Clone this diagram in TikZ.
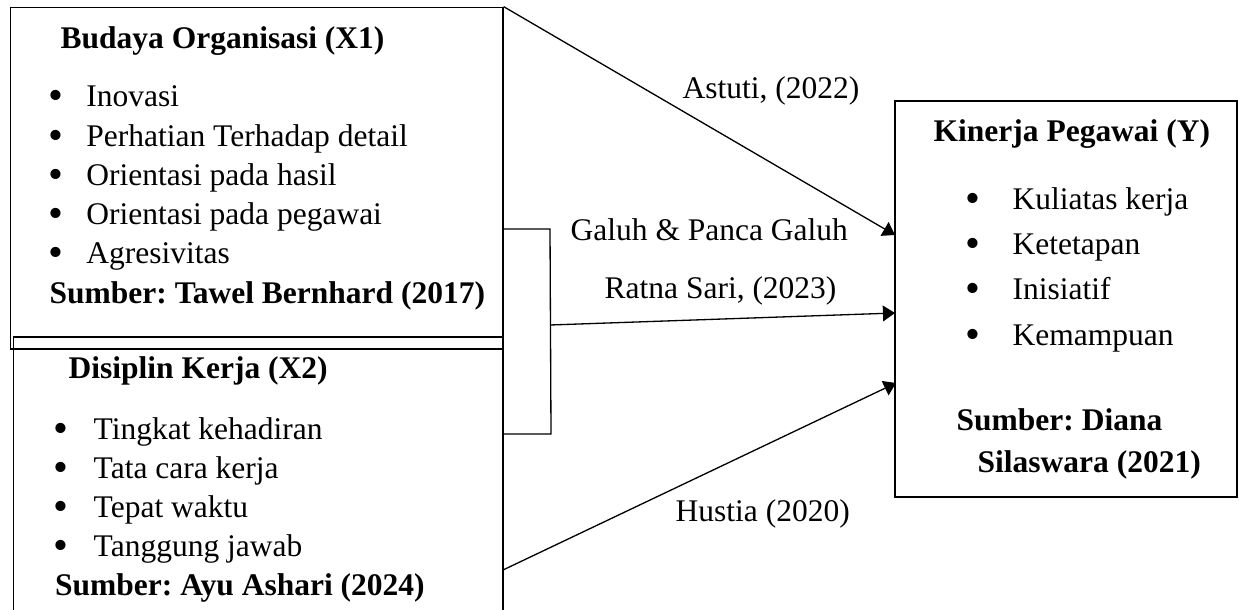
\documentclass[tikz,border=0pt]{standalone}
\usepackage{fontspec}
\setmainfont{Liberation Serif}
\usetikzlibrary{arrows.meta, fit}
\frenchspacing

\newcommand{\itm}[2][14pt]{\makebox[#1][l]{\hspace{-0.05em}\raisebox{-0.1em}{\scalebox{1.35}{\textbullet}}}#2}

\begin{document}
\begin{tikzpicture}[x=0.381pt,y=-0.381pt,>={Triangle[length=4.6pt,width=6pt]},
  line width=0.5pt,
  box/.style={draw,rectangle,inner sep=0pt},
  head/.style={anchor=base west,inner sep=0pt,font=\fontsize{12}{14}\selectfont\bfseries},
  items/.style={anchor=base west,inner sep=0pt,align=left},
  ref/.style={anchor=base west,inner sep=0pt,font=\fontsize{12}{14}\selectfont}]
  \useasboundingbox (0,0) rectangle (1239,609);
  % boxes
  \node[box, fit={(10.7,7.3) (503,349)}] (x1box) {};
  \node[box, fit={(13.8,337) (503,640)}] (x2box) {};
  \node[box, fit={(895,101) (1237,497)}] (ybox) {};
  % texts of X1 (lists are placed by their last line)
  \node[head] (x1head) at (60,48) {Budaya Organisasi (X1)};
  \node[items, font=\fontsize{12}{14.95}\selectfont] (x1list) at (49,303)
    {\itm{Inovasi}\\ \itm{Perhatian Terhadap detail}\\ \itm{Orientasi pada hasil}\\
     \itm{Orientasi pada pegawai}\\ \itm{Agresivitas}\\ \textbf{Sumber: Tawel Bernhard (2017)}};
  % texts of X2
  \node[head] (x2head) at (68,378) {Disiplin Kerja (X2)};
  \node[items, font=\fontsize{12}{14.85}\selectfont] (x2list) at (54.5,595)
    {\itm[14.7pt]{Tingkat kehadiran}\\ \itm[14.7pt]{Tata cara kerja}\\ \itm[14.7pt]{Tepat waktu}\\
     \itm[14.7pt]{Tanggung jawab}\\ \textbf{Sumber: Ayu Ashari (2024)}};
  % texts of Y
  \node[head] (yhead) at (933,141) {Kinerja Pegawai (Y)};
  \node[items, font=\fontsize{12}{17.27}\selectfont] (ylist) at (966.5,345)
    {\itm[17.3pt]{Kuliatas kerja}\\ \itm[17.3pt]{Ketetapan}\\ \itm[17.3pt]{Inisiatif}\\ \itm[17.3pt]{Kemampuan}};
  \node[items, font=\fontsize{12}{16}\selectfont\bfseries] (ysrc) at (956,472)
    {Sumber: Diana\\ \hspace{8pt}Silaswara (2021)};
  % connectors
  \coordinate (bt) at (550,229);
  \coordinate (bm) at (550,325);
  \coordinate (bb) at (551,434);
  \coordinate (ya) at (895,235);
  \coordinate (yb) at (895,313);
  \coordinate (yc) at (896,383);
  \coordinate (xc) at (503,570);
  \draw (x1box.east |- bt) -- (bt) -- (bb) -- (x2box.east |- bb);
  \draw[->] (x1box.north east) -- (ya);
  \draw[->] (bm) -- (yb);
  \draw[->] (xc) -- (yc);
  % labels
  \node[ref] (lastuti) at (682,98) {Astuti, (2022)};
  \node[ref] (lgaluh) at (570,240) {Galuh \& Panca Galuh};
  \node[ref] (lratna) at (604,298) {Ratna Sari, (2023)};
  \node[ref] (lhustia) at (675,521) {Hustia (2020)};
\end{tikzpicture}
\end{document}
